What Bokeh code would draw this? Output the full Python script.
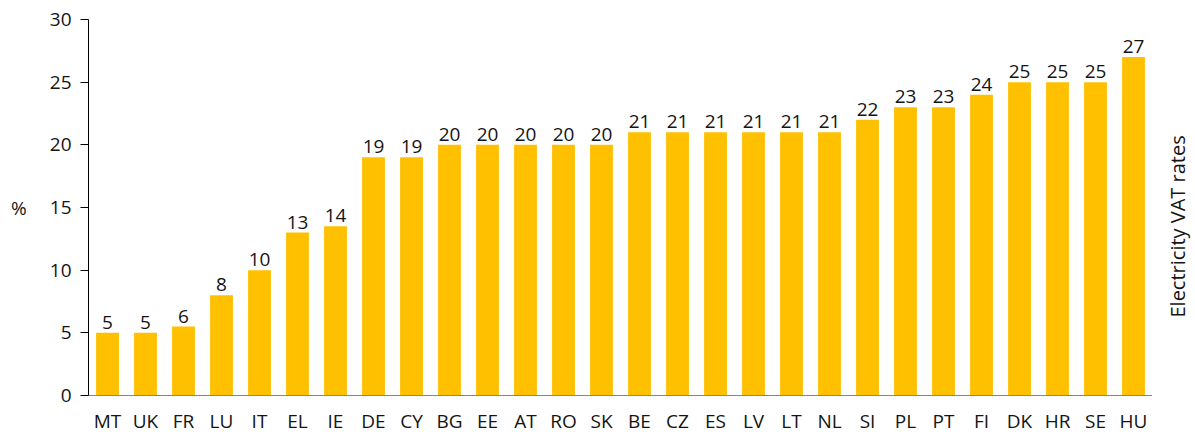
import math
from bokeh.plotting import figure
from bokeh.layouts import row
from bokeh.models import ColumnDataSource, FixedTicker, Range1d
from bokeh.core.properties import value
from bokeh.embed import file_html
from bokeh.resources import INLINE

countries = ["MT", "UK", "FR", "LU", "IT", "EL", "IE", "DE", "CY", "BG", "EE", "AT", "RO", "SK",
             "BE", "CZ", "ES", "LV", "LT", "NL", "SI", "PL", "PT", "FI", "DK", "HR", "SE", "HU"]
rates = [5, 5, 5.5, 8, 10, 13, 13.5, 19, 19, 20, 20, 20, 20, 20,
         21, 21, 21, 21, 21, 21, 22, 23, 23, 24, 25, 25, 25, 27]
y_ticks = [0, 5, 10, 15, 20, 25, 30]
y_title = "%"
side_title = "Electricity  VAT rates"

labels = [str(int(math.floor(v + 0.5))) for v in rates]
src = ColumnDataSource(dict(c=countries, v=rates, t=labels))

FONT = "Open Sans"
TXT = "#141414"
FS = "19px"
TOP, BOTTOM = 19, 40

p = figure(x_range=countries, y_range=Range1d(0, 30), width=1152, height=436,
           output_backend="svg", toolbar_location=None,
           min_border_left=88, min_border_right=0, min_border_top=TOP, min_border_bottom=BOTTOM)
p.outline_line_color = None
p.grid.grid_line_color = None
p.background_fill_color = "white"

p.vbar(x="c", top="v", width=0.6, source=src, color="#FFC000", line_color=None)
p.text(x="c", y="v", text="t", source=src, text_align="center", text_baseline="bottom",
       y_offset=-4, text_font=value(FONT), text_font_size=FS, text_color=TXT)

p.yaxis.ticker = FixedTicker(ticks=y_ticks)
p.yaxis.axis_line_color = "#000000"
p.yaxis.major_tick_line_color = "#000000"
p.yaxis.major_tick_in = 0
p.yaxis.major_tick_out = 8
p.yaxis.minor_tick_line_color = None
p.yaxis.major_label_text_font = FONT
p.yaxis.major_label_text_font_size = FS
p.yaxis.major_label_text_color = TXT
p.yaxis.major_label_standoff = 9
p.yaxis.axis_label = y_title
p.yaxis.axis_label_text_font = FONT
p.yaxis.axis_label_text_font_size = FS
p.yaxis.axis_label_text_font_style = "normal"
p.yaxis.axis_label_text_color = TXT
p.yaxis.axis_label_standoff = 20
try:
    p.yaxis.axis_label_orientation = "horizontal"
except Exception:
    pass

p.xaxis.axis_line_color = "#868686"
p.xaxis.major_tick_line_color = None
p.xaxis.minor_tick_line_color = None
p.xaxis.major_label_text_font = FONT
p.xaxis.major_label_text_font_size = FS
p.xaxis.major_label_text_color = TXT
p.xaxis.major_label_standoff = 6

# narrow side panel holding the vertical title
s = figure(x_range=Range1d(0, 43), y_range=Range1d(0, 30), width=43, height=436,
           output_backend="svg", toolbar_location=None,
           min_border_left=0, min_border_right=0, min_border_top=TOP, min_border_bottom=BOTTOM)
s.axis.visible = False
s.grid.grid_line_color = None
s.outline_line_color = None
s.text(x=[25], y=[13.7], text=[side_title], angle=math.pi / 2, text_align="center",
       text_baseline="middle", text_font=value(FONT), text_font_size="20px", text_color=TXT)

layout = row(p, s, spacing=0)
open("out.html", "w").write(file_html(layout, INLINE))
